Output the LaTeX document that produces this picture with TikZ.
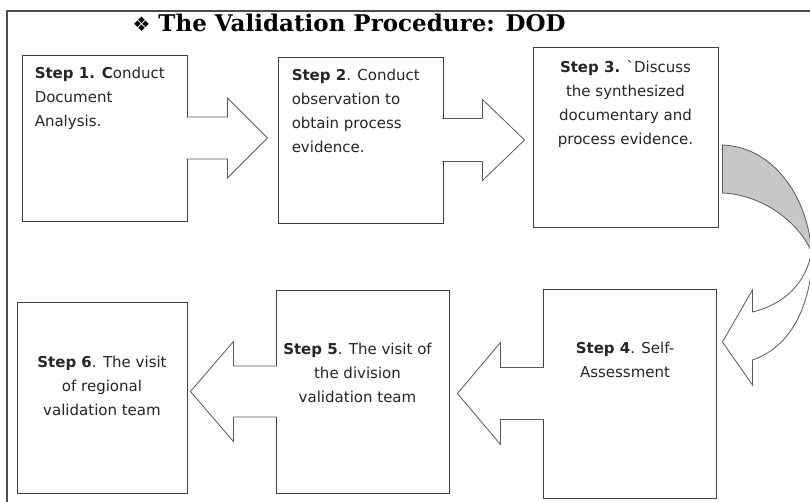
\documentclass[tikz,border=0pt]{standalone}
\usepackage{fontspec}
\setmainfont{DejaVu Sans}
\newfontfamily\titlefont{DejaVu Serif}
\newfontfamily\dingfont{DejaVu Sans}
\usetikzlibrary{positioning, calc}

\tikzset{
  stepbox/.style={draw=black!75, line width=0.9pt, fill=white, rectangle, inner sep=0pt},
  steptext/.style={inner sep=0pt, font=\fontsize{15}{24}\selectfont, text=black!85},
  blockarrow/.style={draw=black!65, line width=0.8pt, fill=white, line join=miter},
  bendarrow/.style={draw=black!65, line width=0.8pt, line join=miter},
}

% hollow block arrow: from, tip, shaft half, head half, head length (signed)
\newcommand{\flowarrow}[5]{%
  \filldraw[blockarrow] let \p1=(#1), \p2=(#2) in
    ({\x1-0.03*(#5pt)},{\y1+#3pt}) -- ({\x2-(#5pt)},{\y1+#3pt}) -- ({\x2-(#5pt)},{\y1+#4pt})
    -- (\x2,\y1) -- ({\x2-(#5pt)},{\y1-#4pt}) -- ({\x2-(#5pt)},{\y1-#3pt})
    -- ({\x1-0.03*(#5pt)},{\y1-#3pt});}

\begin{document}
\begin{tikzpicture}[x=1pt,y=1pt]
  \useasboundingbox (0,0) rectangle (810,502);
  \draw[black!70, line width=1.4pt] (810,491) -- (7,491) -- (7,0);

  \node[anchor=base west, font={\titlefont\bfseries\fontsize{23}{26}\selectfont}] (title) at (129,470)
    {{\dingfont\fontsize{20}{24}\selectfont ❖} The Validation Procedure: DOD};

  % top row
  \node[stepbox, minimum width=165pt, minimum height=166pt] (s1) at (104.5,364) {};
  \node[stepbox, minimum width=165pt, minimum height=166pt] (s2) at (360.5,362) {};
  \node[stepbox, minimum width=185pt, minimum height=180pt] (s3) at (625.5,365) {};
  % bottom row
  \node[stepbox, minimum width=173pt, minimum height=209pt] (s4) at (629.5,108.5) {};
  \node[stepbox, minimum width=173pt, minimum height=203pt] (s5) at (362.5,110.5) {};
  \node[stepbox, minimum width=170pt, minimum height=191pt] (s6) at (102,104.5) {};

  \node[steptext, align=left, below right=12.5pt and 13pt of s1.north west] (t1)
    {\textbf{Step 1. C}onduct\\Document\\Analysis.};
  \node[steptext, align=left, below right=12pt and 14pt of s2.north west] (t2)
    {\textbf{Step 2}. Conduct\\observation to\\obtain process\\evidence.};
  \node[steptext, align=center, below=13.5pt of s3.north] (t3)
    {\textbf{Step 3.} \textasciigrave Discuss\\the synthesized\\documentary and\\process evidence.};
  \node[steptext, align=center, below=53pt of s4.north, xshift=-4.5pt] (t4)
    {\textbf{Step 4}. Self-\\Assessment};
  \node[steptext, align=center, below=53pt of s5.north, xshift=-5pt] (t5)
    {\textbf{Step 5}. The visit of\\the division\\validation team};
  \node[steptext, align=center, below=54pt of s6.north] (t6)
    {\textbf{Step 6}. The visit\\of regional\\validation team};

  % block arrows
  \coordinate[left=10pt of s2.west] (tip1);
  \coordinate[left=8pt of s3.west] (tip2);
  \coordinate[right=8pt of s5.east] (tip3);
  \coordinate[right=3pt of s6.east] (tip4);
  \flowarrow{s1.east}{tip1}{21}{40}{40}
  \flowarrow{s2.east}{tip2}{21.5}{40.5}{42}
  \flowarrow{s4.west}{tip3}{26}{51}{-43}
  \flowarrow{s5.west}{tip4}{25.5}{50}{-43}

  % curved arrow from step 3 down to step 4
  \begin{scope}[shift={(s3.east)}]
    \filldraw[bendarrow, fill=black!22] (4,-8) .. controls (57,-10) and (90,-63) .. (93,-115)
      .. controls (82,-88) and (47,-58) .. (4,-56) -- cycle;
    \filldraw[bendarrow, fill=white] (93,-115) .. controls (88,-145) and (67,-167) .. (34,-175)
      -- (34,-153) -- (4,-205) -- (34,-248) -- (34,-223)
      .. controls (72,-210) and (92,-170) .. (94,-119) -- cycle;
  \end{scope}
\end{tikzpicture}
\end{document}
